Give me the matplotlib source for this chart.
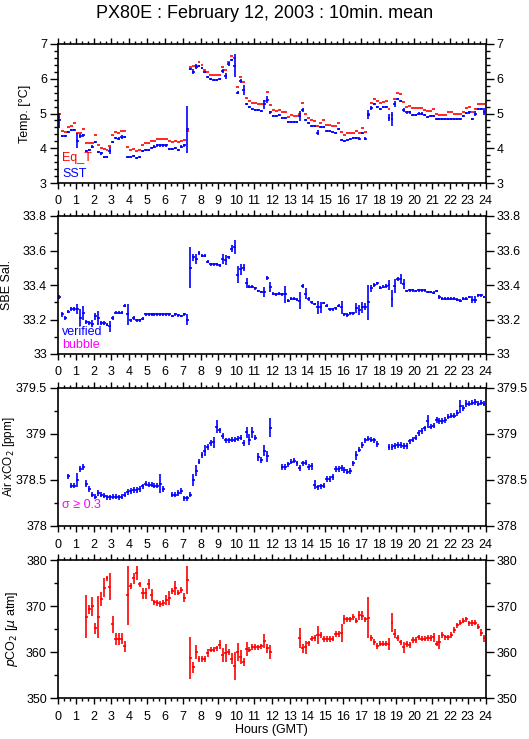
import numpy as np
import matplotlib
matplotlib.use("Agg")
from matplotlib import pyplot as plt
from matplotlib.ticker import MultipleLocator

plt.rcParams['font.family'] = ['Liberation Sans', 'DejaVu Sans']

nan = np.nan

# 10-minute means, one row per hour (6 values each)
sst = [
    4.80, 4.35, 4.35, 4.47, 4.52, 4.52,
    4.22, 4.35, 4.37, 3.93, 3.95, 4.05,
    4.18, 3.88, 3.85, 3.76, 3.76, 3.93,
    4.18, 4.30, 4.28, 4.33, 4.32, 3.76,
    3.76, 3.77, 3.73, 3.74, 3.93, 3.95,
    3.94, 4.02, 4.05, 4.08, 4.08, 4.08,
    4.08, 3.97, 3.97, 4.02, 3.95, 4.05,
    4.08, 4.55, 6.28, 6.20, 6.35, 6.38,
    6.32, 6.20, 6.05, 6.00, 5.97, 5.97,
    6.00, 6.22, 6.08, 6.42, 6.55, 6.38,
    5.60, 5.93, 5.67, 5.27, 5.18, 5.12,
    5.11, 5.10, 5.08, 5.27, 5.40, 5.03,
    4.93, 4.93, 4.95, 4.87, 4.87, 4.75,
    4.75, 4.75, 4.75, 4.92, 5.10, 4.80,
    4.72, 4.63, 4.63, 4.45, 4.60, 4.60,
    4.50, 4.50, 4.48, 4.45, 4.55, 4.25,
    4.22, 4.25, 4.27, 4.30, 4.30, 4.28,
    4.43, 4.28, 4.97, 5.17, 5.27, 5.20,
    5.13, 5.18, 5.18, 4.88, 4.83, 5.27,
    5.42, 5.35, 5.10, 5.03, 5.03, 4.95,
    4.95, 5.00, 5.00, 4.97, 4.90, 4.93,
    4.93, 4.83, 4.83, 4.83, 4.83, 4.85,
    4.85, 4.83, 4.83, 4.83, 4.93, 5.02,
    5.03, 4.85, 5.00, 5.12, 5.12, 5.05,
]
sst_err = [
    .22, .03, .03, .03, .03, .03,
    .22, .05, .05, .03, .03, .03,
    .04, .03, .03, .03, .03, .10,
    .03, .03, .03, .05, .03, .03,
    .03, .03, .03, .03, .03, .03,
    .03, .03, .03, .03, .03, .03,
    .03, .03, .03, .03, .03, .03,
    .03, .68, .03, .07, .08, .03,
    .03, .03, .03, .03, .03, .03,
    .03, .05, .08, .06, .03, .33,
    .05, .05, .15, .03, .03, .03,
    .03, .03, .03, .13, .10, .03,
    .03, .03, .03, .03, .03, .03,
    .03, .03, .03, .15, .05, .03,
    .03, .03, .03, .07, .03, .03,
    .03, .03, .03, .03, .03, .03,
    .03, .03, .03, .03, .03, .03,
    .03, .03, .13, .06, .03, .03,
    .03, .03, .03, .10, .20, .08,
    .03, .03, .07, .03, .03, .03,
    .03, .03, .03, .03, .03, .03,
    .03, .03, .03, .03, .03, .03,
    .03, .03, .03, .03, .03, .03,
    .03, .03, .07, .03, .03, .10,
]
eq_t = [
    5.00, 4.50, 4.48, 4.62, 4.65, 4.72,
    4.45, 4.45, 4.55, 4.15, 4.15, 4.15,
    4.38, 4.10, 4.02, 3.97, 3.95, 4.07,
    4.38, 4.48, 4.45, 4.50, 4.50, 4.03,
    3.95, 3.97, 3.93, 3.95, 4.08, 4.15,
    4.15, 4.20, 4.22, 4.27, 4.27, 4.27,
    4.27, 4.20, 4.18, 4.20, 4.18, 4.22,
    4.25, 4.50, 6.33, 6.37, 6.38, 6.48,
    6.40, 6.25, 6.20, 6.12, 6.12, 6.12,
    6.12, 6.35, 6.25, 6.48, 6.65, 6.60,
    5.77, 6.05, 5.92, 5.45, 5.35, 5.30,
    5.30, 5.28, 5.27, 5.35, 5.62, 5.25,
    5.10, 5.08, 5.10, 5.05, 5.05, 4.90,
    4.95, 4.93, 4.92, 5.00, 5.30, 5.00,
    4.88, 4.80, 4.78, 4.65, 4.73, 4.80,
    4.68, 4.68, 4.63, 4.63, 4.73, 4.48,
    4.37, 4.43, 4.45, 4.45, 4.50, 4.45,
    4.57, 4.47, 5.00, 5.30, 5.43, 5.37,
    5.30, 5.33, 5.35, 5.13, 4.95, 5.42,
    5.58, 5.55, 5.32, 5.20, 5.22, 5.15,
    5.15, 5.15, 5.15, 5.10, 5.07, 5.07,
    5.12, 5.00, 4.97, 4.97, 4.97, 5.03,
    5.03, 5.00, 5.00, 5.00, 5.05, 5.15,
    5.20, 5.03, 5.12, 5.27, 5.28, 5.27,
]
sal = [
    33.33, 33.23, 33.21, 33.245, 33.26, 33.26,
    33.26, 33.21, 33.24, 33.185, 33.18, 33.175,
    33.22, 33.21, 33.18, 33.18, 33.17, 33.16,
    33.21, 33.24, 33.24, 33.24, 33.28, 33.23,
    33.195, 33.21, 33.195, 33.195, 33.205, 33.23,
    33.23, 33.23, 33.23, 33.23, 33.23, 33.23,
    33.23, 33.23, 33.22, 33.23, 33.225, 33.22,
    33.23, 33.20, 33.50, 33.56, 33.55, 33.585,
    33.57, 33.57, 33.535, 33.52, 33.52, 33.52,
    33.515, 33.55, 33.545, 33.56, 33.61, 33.62,
    33.46, 33.49, 33.50, 33.41, 33.39, 33.39,
    33.38, 33.365, 33.36, 33.36, 33.44, 33.39,
    33.35, 33.345, 33.35, 33.345, 33.345, 33.31,
    33.32, 33.32, 33.315, 33.31, 33.395, 33.35,
    33.32, 33.30, 33.29, 33.27, 33.27, 33.295,
    33.28, 33.26, 33.26, 33.265, 33.28, 33.27,
    33.23, 33.225, 33.235, 33.235, 33.265, 33.255,
    33.27, 33.275, 33.30, 33.38, 33.40, 33.41,
    33.385, 33.39, 33.395, 33.40, 33.32, 33.395,
    33.435, 33.435, 33.405, 33.365, 33.37, 33.37,
    33.365, 33.37, 33.37, 33.37, 33.36, 33.36,
    33.355, 33.365, 33.33, 33.32, 33.32, 33.32,
    33.32, 33.32, 33.315, 33.31, 33.32, 33.32,
    33.33, 33.315, 33.315, 33.34, 33.34, 33.33,
]
sal_err = [
    .010, .015, .010, .010, .010, .010,
    .030, .050, .040, .010, .010, .020,
    .020, .040, .010, .010, .010, .030,
    .010, .010, .010, .010, .010, .060,
    .010, .010, .010, .010, .010, .010,
    .008, .008, .008, .008, .008, .008,
    .008, .008, .008, .008, .008, .008,
    .008, .030, .120, .020, .030, .010,
    .010, .008, .008, .008, .008, .008,
    .008, .030, .030, .010, .020, .040,
    .050, .030, .020, .030, .010, .008,
    .008, .008, .008, .030, .010, .030,
    .008, .008, .008, .008, .050, .010,
    .008, .008, .008, .050, .010, .030,
    .010, .008, .008, .040, .030, .008,
    .008, .008, .008, .008, .010, .040,
    .008, .010, .010, .010, .030, .030,
    .030, .020, .100, .020, .010, .010,
    .008, .008, .010, .030, .050, .040,
    .010, .030, .030, .008, .008, .008,
    .008, .008, .008, .008, .008, .008,
    .008, .008, .010, .008, .008, .008,
    .008, .008, .008, .008, .008, .008,
    .008, .020, .020, .008, .008, .008,
]
xco2 = [
    nan, nan, nan, 378.54, 378.44, 378.44,
    378.50, 378.62, 378.64, 378.46, 378.40, 378.34,
    378.32, 378.36, 378.34, 378.33, 378.31, 378.31,
    378.32, 378.32, 378.31, 378.32, 378.34, 378.37,
    378.38, 378.39, 378.39, 378.40, 378.43, 378.46,
    378.45, 378.45, 378.44, 378.44, 378.46, 378.40,
    nan, nan, 378.34, 378.34, 378.36, 378.38,
    378.30, 378.30, 378.34, 378.50, 378.60, 378.70,
    378.77, 378.82, 378.86, 378.90, 378.91, 379.08,
    379.04, 378.98, 378.93, 378.93, 378.94, 378.94,
    378.95, 378.96, 378.90, 379.02, 378.94, 379.02,
    378.96, 378.75, 378.72, 378.82, 378.76, 379.07,
    nan, nan, nan, 378.64, 378.64, 378.67,
    378.70, 378.71, 378.68, 378.63, 378.68, 378.69,
    378.64, 378.65, 378.45, 378.42, 378.43, 378.44,
    378.51, 378.51, 378.53, 378.62, 378.62, 378.63,
    378.61, 378.59, 378.60, 378.68, 378.77, 378.83,
    378.88, 378.93, 378.95, 378.94, 378.93, 378.89,
    nan, nan, nan, 378.86, 378.86, 378.87,
    378.88, 378.88, 378.87, 378.87, 378.92, 378.94,
    378.96, 379.01, 379.03, 379.06, 379.14, 379.08,
    379.09, 379.15, 379.14, 379.14, 379.15, 379.19,
    379.20, 379.20, 379.23, 379.30, 379.28, 379.33,
    379.33, 379.34, 379.35, 379.33, 379.34, 379.33,
]
xco2_err = [
    .03, .03, .03, .03, .03, .03,
    .08, .03, .03, .04, .03, .03,
    .03, .03, .03, .03, .03, .03,
    .03, .03, .03, .03, .03, .03,
    .03, .03, .03, .03, .03, .03,
    .03, .03, .03, .03, .10, .03,
    .03, .03, .03, .03, .03, .03,
    .03, .03, .03, .07, .06, .03,
    .03, .06, .03, .03, .06, .07,
    .03, .03, .03, .03, .03, .03,
    .03, .03, .03, .06, .06, .06,
    .03, .04, .03, .06, .06, .10,
    .03, .03, .03, .03, .03, .03,
    .03, .03, .03, .03, .03, .03,
    .03, .04, .05, .03, .03, .03,
    .03, .03, .03, .03, .03, .03,
    .03, .03, .03, .03, .05, .03,
    .03, .03, .03, .03, .03, .03,
    .03, .03, .03, .03, .03, .03,
    .03, .03, .03, .03, .03, .03,
    .03, .03, .03, .03, .07, .03,
    .03, .03, .03, .03, .03, .03,
    .03, .03, .03, .07, .03, .04,
    .03, .03, .03, .03, .03, .03,
]
pco2 = [
    nan, nan, nan, nan, nan, nan,
    nan, nan, nan, 367.7, 369.3, 369.9,
    365.2, 367.6, 371.5, 374.0, 376.0, 374.2,
    366.0, 362.9, 362.9, 362.9, 361.3, 372.3,
    374.4, 376.0, 377.1, 374.7, 372.8, 372.8,
    374.8, 372.3, 370.8, 370.6, 370.4, 370.6,
    371.3, 371.7, 373.3, 374.0, 372.9, 373.5,
    371.8, 375.7, 358.7, 356.7, 360.0, 358.5,
    358.5, 358.5, 359.8, 360.5, 360.5, 360.8,
    361.6, 359.4, 359.8, 360.0, 358.5, 356.9,
    360.0, 359.0, 357.8, 360.7, 360.5, 361.1,
    361.1, 361.0, 361.2, 362.4, 360.8, 360.0,
    nan, nan, nan, nan, nan, nan,
    nan, nan, nan, 363.0, 360.8, 361.0,
    361.9, 362.9, 363.0, 363.7, 363.7, 362.8,
    362.8, 362.8, 362.9, 363.9, 363.9, 364.1,
    367.1, 367.1, 367.1, 367.6, 366.8, 368.0,
    367.9, 367.1, 367.5, 363.0, 362.2, 361.3,
    361.8, 361.8, 361.8, 361.8, 366.4, 364.0,
    363.0, 362.1, 361.0, 361.7, 361.5, 362.6,
    362.6, 363.2, 362.9, 362.9, 363.0, 363.0,
    363.2, 361.8, 362.2, 363.7, 363.2, 363.2,
    363.7, 364.8, 365.8, 366.4, 366.8, 367.1,
    366.2, 366.3, 366.4, 365.5, 364.2, 363.0,
]
pco2_err = [
    .6, .6, .6, .6, .6, .6,
    .6, .6, .6, 4.7, 1.0, 2.0,
    1.2, 4.5, 1.5, 2.1, .6, 3.0,
    1.8, 1.3, 1.3, 1.2, 1.2, 6.5,
    .6, 1.2, 1.5, .6, 1.2, 1.2,
    1.0, 1.3, .6, .6, .6, .6,
    1.0, 1.5, .6, 1.5, .6, .6,
    1.0, 3.0, 4.5, 1.2, 1.5, .6,
    .6, .6, .8, .6, .6, .6,
    1.0, 1.5, 2.0, .6, 1.2, 3.0,
    2.0, 1.5, .8, 1.5, .6, .6,
    .6, .6, .6, 1.5, 1.0, 1.5,
    .6, .6, .6, .6, .6, .6,
    .6, .6, .6, 2.2, 1.0, 1.5,
    .6, .6, .6, 2.0, .6, .6,
    .6, .6, .6, .6, .6, 2.0,
    1.0, .6, .6, .6, .6, 1.0,
    1.0, .6, 4.5, .6, .6, .6,
    .6, .6, .6, 1.3, 2.0, 1.0,
    .6, .6, 1.2, .6, .6, .6,
    .6, .6, .6, .6, .6, .6,
    1.0, .6, 1.5, .6, .6, .6,
    .6, .6, .6, .6, .6, .6,
    .6, .6, .6, .6, .8, .8,
]

hours = np.arange(len(sst)) / 6.0 + 1.0 / 12.0
half_bin = 1.0 / 12.0

BLUE = "#0000ff"
RED = "#ff0000"
MAGENTA = "#ff00ff"

fig = plt.figure(figsize=(5.29, 7.39), dpi=100)
W, H = 529.0, 739.0
left, right = 58.0, 485.5
panels = [(44, 183), (216, 354), (388, 526), (560, 698)]
axes = []
for top, bot in panels:
    ax = fig.add_axes([left / W, 1 - bot / H, (right - left) / W, (bot - top) / H])
    axes.append(ax)


def style(ax, ylo, yhi, ticks, ticklabels, minor, label, labx, labsize=9):
    ax.set_xlim(0, 24)
    ax.set_ylim(ylo, yhi)
    ax.xaxis.set_major_locator(MultipleLocator(1))
    ax.xaxis.set_minor_locator(MultipleLocator(1.0 / 3.0))
    ax.set_yticks(ticks)
    ax.set_yticklabels(ticklabels)
    ax.yaxis.set_minor_locator(MultipleLocator(minor))
    ax.tick_params(which="both", direction="out", top=True, right=True,
                   labelright=True, labelsize=9, width=1, pad=2)
    ax.tick_params(axis="y", which="major", length=6)
    ax.tick_params(axis="y", which="minor", length=3)
    ax.tick_params(axis="x", which="major", length=4, pad=5)
    ax.tick_params(axis="x", which="minor", length=2.5)
    for s in ax.spines.values():
        s.set_linewidth(1.2)
    ax.set_ylabel(label, fontsize=labsize)
    ax.yaxis.set_label_coords(labx, 0.5)


ekw = dict(fmt="none", capsize=0, elinewidth=1.2)

# Temperature
ax = axes[0]
ax.errorbar(hours, eq_t, xerr=half_bin, ecolor=RED, **ekw)
ax.errorbar(hours, sst, xerr=half_bin, yerr=sst_err, ecolor=BLUE, **ekw)
style(ax, 3, 7, [3, 4, 5, 6, 7], ["3", "4", "5", "6", "7"], 0.2,
      "Temp. [°C]", -0.063)
ax.text(0.01, 0.16, "Eq_T", color=RED, transform=ax.transAxes, fontsize=9)
ax.text(0.01, 0.04, "SST", color=BLUE, transform=ax.transAxes, fontsize=9)

# Salinity
ax = axes[1]
ax.errorbar(hours, sal, xerr=half_bin, yerr=sal_err, ecolor=BLUE, **ekw)
style(ax, 33.0, 33.8, [33.0, 33.2, 33.4, 33.6, 33.8],
      ["33", "33.2", "33.4", "33.6", "33.8"], 0.1, "SBE Sal.", -0.105)
ax.text(0.01, 0.14, "verified", color=BLUE, transform=ax.transAxes, fontsize=9)
ax.text(0.01, 0.04, "bubble", color=MAGENTA, transform=ax.transAxes, fontsize=9)

# Air xCO2
ax = axes[2]
ax.errorbar(hours, xco2, xerr=half_bin, yerr=xco2_err, ecolor=BLUE, **ekw)
style(ax, 378.0, 379.5, [378.0, 378.5, 379.0, 379.5],
      ["378", "378.5", "379", "379.5"], 0.25, "Air xCO$_2$ [ppm]", -0.097,
      labsize=8.5)
ax.text(0.01, 0.13, "σ ≥ 0.3", color=MAGENTA, transform=ax.transAxes, fontsize=9)

# pCO2
ax = axes[3]
ax.errorbar(hours, pco2, xerr=half_bin, yerr=pco2_err, ecolor=RED, **ekw)
style(ax, 350, 380, [350, 360, 370, 380], ["350", "360", "370", "380"], 5,
      "$p$CO$_2$ [$\\mu$ atm]", -0.09)
ax.set_xlabel("Hours (GMT)", fontsize=9, labelpad=1)

fig.text(0.5, 1 - 13 / H, "PX80E : February 12, 2003 : 10min. mean",
         ha="center", va="center", fontsize=13)

fig.savefig("out.png", dpi=100)
